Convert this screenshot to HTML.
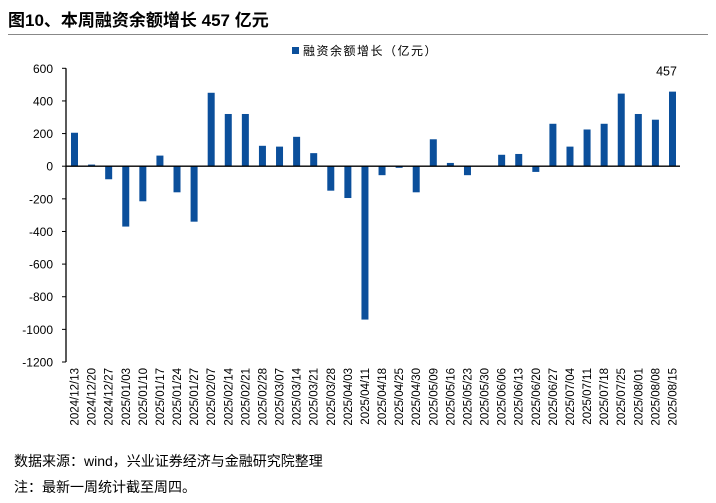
<!DOCTYPE html>
<html><head><meta charset="utf-8"><style>
body{margin:0;background:#fff;width:716px;height:503px;overflow:hidden;font-family:"Liberation Sans","Noto Sans CJK SC",sans-serif;}
.t{position:absolute;left:8px;top:6px;font-size:17px;font-weight:bold;color:#000;}
.hl{position:absolute;left:8px;top:34px;width:700px;height:1px;background:#888;}
.f{position:absolute;left:14px;font-size:14px;color:#000;}
</style></head><body>
<div class="t">图10、本周融资余额增长 457 亿元</div>
<div class="hl"></div>
<svg id="c" width="716" height="503" style="position:absolute;left:0;top:0"></svg>
<div class="f" style="top:451px">数据来源：wind，兴业证券经济与金融研究院整理</div>
<div class="f" style="top:477px">注：最新一周统计截至周四。</div>
<script>
const categories=["2024/12/13","2024/12/20","2024/12/27","2025/01/03","2025/01/10","2025/01/17","2025/01/24","2025/01/27","2025/02/07","2025/02/14","2025/02/21","2025/02/28","2025/03/07","2025/03/14","2025/03/21","2025/03/28","2025/04/03","2025/04/11","2025/04/18","2025/04/25","2025/04/30","2025/05/09","2025/05/16","2025/05/23","2025/05/30","2025/06/06","2025/06/13","2025/06/20","2025/06/27","2025/07/04","2025/07/11","2025/07/18","2025/07/25","2025/08/01","2025/08/08","2025/08/15"];
const values=[205,10,-80,-370,-215,65,-160,-340,450,320,320,125,120,180,80,-150,-195,-940,-55,-10,-160,165,20,-55,0,70,75,-35,260,120,225,260,445,320,285,457];
const yTicks=[600,400,200,0,-200,-400,-600,-800,-1000,-1200];
const NS="http://www.w3.org/2000/svg";
const svg=document.getElementById('c');
const yMin=-1200,yMax=600,pT=68.3,pB=362;
function y(v){return pB-(v-yMin)/(yMax-yMin)*(pB-pT);}
const x0=74.5,x1=672.5;
function x(i){return x0+i*(x1-x0)/(categories.length-1);}
function mk(t,a){const e=document.createElementNS(NS,t);for(const k in a)e.setAttribute(k,a[k]);svg.appendChild(e);return e;}
yTicks.forEach(v=>{
 const t=mk('text',{x:53,y:y(v)+4.5,'text-anchor':'end','font-size':12,'font-family':'Liberation Sans, sans-serif',fill:'#000'});
 t.textContent=v;
 
 
 const l=mk('line',{x1:62,x2:66,y1:y(v),y2:y(v),stroke:'#000'});
 
 
});
const ax=mk('line',{x1:66,x2:66,y1:pT,y2:pB,stroke:'#000','stroke-width':1.3});


values.forEach((v,i)=>{
 const r=mk('rect',{x:x(i)-3.5,y:Math.min(y(v),y(0)),width:7,height:Math.abs(y(v)-y(0)),fill:'#0b4f9b'});
 
 
 const t=mk('text',{transform:`translate(${x(i)+4},368) rotate(-90)`,'text-anchor':'end','font-size':11.5,'font-family':'Liberation Sans, sans-serif',fill:'#000'});
 t.textContent=categories[i];
 
 
});
const z=mk('line',{x1:66,x2:680,y1:y(0),y2:y(0),stroke:'#000','stroke-width':1.3});


const li=values.length-1;
const lb=mk('text',{x:x(li)-6,y:y(values[li])-16,'text-anchor':'middle','font-size':12.5,'font-family':'Liberation Sans, sans-serif',fill:'#000'});
lb.textContent=values[li];


const lg=mk('rect',{x:292,y:47,width:7,height:7,fill:'#0b4f9b'});


const lt=mk('text',{x:303,y:55,'font-size':12,'letter-spacing':'1.5','font-family':'Liberation Sans, Noto Sans CJK SC, sans-serif',fill:'#000'});
lt.textContent='融资余额增长（亿元）';


</script>
</body></html>
